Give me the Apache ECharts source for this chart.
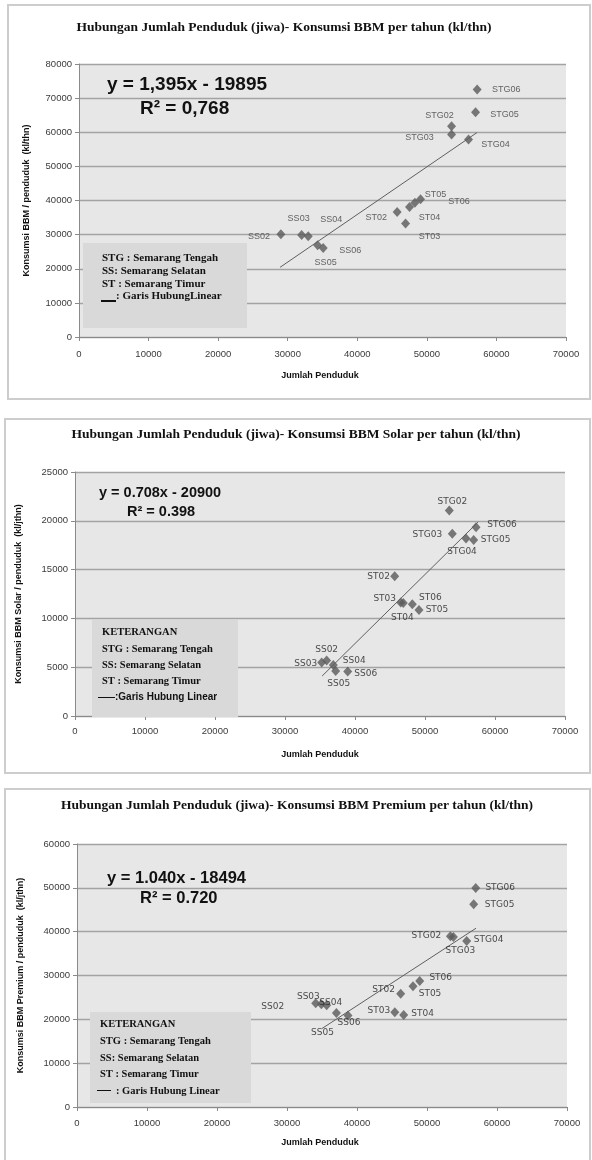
<!DOCTYPE html>
<html>
<head>
<meta charset="utf-8">
<script src="https://cdn.jsdelivr.net/npm/echarts@6/dist/echarts.min.js"></script>
<style>
html,body{margin:0;padding:0;background:#fff}
#c{width:592px;height:1160px}
</style>
</head>
<body>
<div id="c"></div>
<script>
// Kode wilayah (STG: Semarang Tengah, SS: Semarang Selatan, ST: Semarang Timur)
const kode = ['STG02','STG03','STG04','STG05','STG06','SS02','SS03','SS04','SS05','SS06','ST02','ST03','ST04','ST05','ST06'];

// Grafik 1: konsumsi BBM total
const penduduk1 = [53550,53550,55990,57000,57230,29020,32000,32950,34300,35100,45730,46940,47510,49090,48280];
const bbmTotal  = [61780,59360,57890,65880,72510,30120,29920,29530,26900,26110,36640,33240,38100,40350,39330];

// Grafik 2: konsumsi BBM solar
const penduduk2 = [53470,53900,55860,56950,57290,35950,35240,36900,37240,38960,45670,46530,46900,49140,48190];
const bbmSolar  = [21050,18670,18190,18020,19350,5680,5470,5230,4620,4550,14320,11630,11590,10850,11460];

// Grafik 3: konsumsi BBM premium
const penduduk3 = [53340,53770,55670,56670,56960,34100,34910,35670,37060,38710,46240,45400,46670,48000,48960];
const bbmPremium= [38950,38790,37880,46260,49990,23650,23420,23190,21430,20900,25860,21590,20970,27530,28740];

// Garis regresi linear: [kemiringan, konstanta, x awal, x akhir]
const regresi1 = [1.395, -19895, 28900, 57200];
const regresi2 = [0.708, -20900, 35300, 57600];
const regresi3 = [1.040, -18494, 35000, 57000];

// Teks persamaan
const persamaan1 = ['y = 1,395x - 19895', 'R² = 0,768'];
const persamaan2 = ['y = 0.708x - 20900', 'R² = 0.398'];
const persamaan3 = ['y = 1.040x - 18494', 'R² = 0.720'];

const judul = [
  'Hubungan Jumlah Penduduk (jiwa)- Konsumsi BBM per tahun (kl/thn)',
  'Hubungan Jumlah Penduduk (jiwa)- Konsumsi BBM Solar per tahun (kl/thn)',
  'Hubungan Jumlah Penduduk (jiwa)- Konsumsi BBM Premium per tahun (kl/thn)'
];
const namaSumbuY = [
  'Konsumsi BBM / penduduk  (kl/thn)',
  'Konsumsi BBM Solar / penduduk  (kl/jthn)',
  'Konsumsi BBM Premium / penduduk  (kl/jthn)'
];
const namaSumbuX = 'Jumlah Penduduk';

// Label placement (offset of label centre from the marker), per chart
const geser1 = [[-12,-11],[-32,3],[27,5],[29,2],[29,0],[-22,2],[-3,-16],[23,-17],[8,17],[27,3],[-21,6],[24,13],[20,11],[15,-5],[44,-1]];
const geser2 = [[3,-9],[-25,1],[-4,13],[22,0],[26,-2],[0,-11],[-16,1],[21,-4],[3,13],[18,2],[-16,0],[-16,-4],[-1,15],[18,0],[18,-6]];
const geser3 = [[-24,-1],[7,14],[22,-1],[26,0],[24.5,0],[-43,3],[-13,-8],[4,-3],[-14,20],[1,7],[-17,-4],[-16,-2],[19,-1],[17,7],[21,-3]];

const chart = echarts.init(document.getElementById('c'), null, {renderer:'canvas'});

const grids = [
  {left:79, top:64, width:487, height:273},
  {left:75, top:472, width:490, height:244},
  {left:77, top:844, width:490, height:263}
];
const yMax = [80000, 25000, 60000];
const yStep = [10000, 5000, 10000];
const labelFont = [
  {fontFamily:'Liberation Sans', fontSize:9, color:'#404040'},
  {fontFamily:'DejaVu Sans', fontSize:9, color:'#222'},
  {fontFamily:'DejaVu Sans', fontSize:9, color:'#222'}
];

function titikSeries(i, xs, ys, geser){
  return {
    type:'scatter', xAxisIndex:i, yAxisIndex:i,
    symbol:'diamond', symbolSize:[9,10],
    itemStyle:{color:'#5a5a5a'},
    z:3,
    data: xs.map((x,k)=>({
      value:[x, ys[k]],
      name:kode[k],
      label:{show:true, position:'inside', offset:geser[k], formatter:kode[k],
        fontFamily:labelFont[i].fontFamily, fontSize:labelFont[i].fontSize, color:labelFont[i].color}
    }))
  };
}
function garisSeries(i, r){
  const [m, c, x0, x1] = r;
  return {
    type:'line', xAxisIndex:i, yAxisIndex:i,
    symbol:'none', silent:true, z:2,
    lineStyle:{color:'#5f5f5f', width:1},
    data:[[x0, m*x0 + c],[x1, m*x1 + c]]
  };
}

const axisLabelStyle = {fontFamily:'Liberation Sans', fontSize:9.5, color:'#3a3a3a',
  formatter:v=>String(v)};

const option = {
  animation:false,
  backgroundColor:'#ffffff',
  grid: grids.map(g=>Object.assign({show:true, backgroundColor:'#e7e7e7', borderWidth:0}, g)),
  xAxis: [0,1,2].map(i=>({
    gridIndex:i, type:'value', min:0, max:70000, interval:10000,
    axisLine:{show:true, onZero:false, lineStyle:{color:'#8a8a8a', width:1}},
    axisTick:{show:true, length:4, lineStyle:{color:'#8a8a8a'}},
    splitLine:{show:false},
    axisLabel:Object.assign({margin:[12,10,11][i]}, axisLabelStyle)
  })),
  yAxis: [0,1,2].map(i=>({
    gridIndex:i, type:'value', min:0, max:yMax[i], interval:yStep[i],
    axisLine:{show:true, lineStyle:{color:'#8a8a8a', width:1}},
    axisTick:{show:true, length:4, lineStyle:{color:'#8a8a8a'}},
    splitLine:{show:true, lineStyle:{color:'#a3a3a3', width:1.3}},
    axisLabel:Object.assign({margin:7}, axisLabelStyle)
  })),
  series:[
    garisSeries(0, regresi1), titikSeries(0, penduduk1, bbmTotal, geser1),
    garisSeries(1, regresi2), titikSeries(1, penduduk2, bbmSolar, geser2),
    garisSeries(2, regresi3), titikSeries(2, penduduk3, bbmPremium, geser3)
  ],
  graphic:[]
};

const G = option.graphic;
// Chart frames
[[8,5,582,394],[5,419,585,354],[5,789,585,380]].forEach(r=>{
  G.push({type:'rect', shape:{x:r[0],y:r[1],width:r[2],height:r[3]}, silent:true, z:-10,
    style:{fill:'#ffffff', stroke:'#cdcdcd', lineWidth:2}});
});
// Titles
const titleY = [28, 435, 806];
const titleX = [284, 296, 297];
judul.forEach((t,i)=>G.push({type:'text', x:titleX[i], y:titleY[i], z:10,
  style:{text:t, textAlign:'center', textVerticalAlign:'middle', fill:'#111',
    font:'bold 13.5px "Liberation Serif"'}}));
// Axis names
const yNameX = [27, 19, 21];
[0,1,2].forEach(i=>{
  const g = grids[i];
  G.push({type:'text', x:yNameX[i], y:g.top+g.height/2, rotation:Math.PI/2, z:10,
    style:{text:namaSumbuY[i], textAlign:'center', textVerticalAlign:'middle', fill:'#111',
      font:'bold 9px "Liberation Sans"'}});
});
[376, 755, 1143].forEach(y=>G.push({type:'text', x:320, y:y, z:10,
  style:{text:namaSumbuX, textAlign:'center', textVerticalAlign:'middle', fill:'#111',
    font:'bold 9px "Liberation Sans"'}}));

// Regression equations
function tulisPersamaan(p, x1, y1, x2, y2, size){
  G.push({type:'text', x:x1, y:y1, z:10, style:{text:p[0], textVerticalAlign:'middle', fill:'#111',
    font:'bold '+size+'px "Liberation Sans"'}});
  G.push({type:'text', x:x2, y:y2, z:10, style:{text:p[1], textVerticalAlign:'middle', fill:'#111',
    font:'bold '+size+'px "Liberation Sans"'}});
}
tulisPersamaan(persamaan1, 107, 85, 140, 109, 19);
tulisPersamaan(persamaan2, 99, 493, 127, 512, 14.5);
tulisPersamaan(persamaan3, 107, 878, 140, 898, 16.5);

// Keterangan boxes
const serif = '"Liberation Serif"';
function kotak(x, y, w, h){
  G.push({type:'rect', shape:{x:x,y:y,width:w,height:h}, z:5, silent:true, style:{fill:'#d9d9d9'}});
}
function baris(t, x, y, font){
  G.push({type:'text', x:x, y:y, z:10, style:{text:t, textVerticalAlign:'middle', fill:'#111', font:font}});
}
function garisKet(x1, x2, y, w){
  G.push({type:'line', z:10, shape:{x1:x1,y1:y,x2:x2,y2:y}, style:{stroke:'#111', lineWidth:w}});
}
// chart 1
kotak(83, 243, 164, 85);
baris('STG : Semarang Tengah', 102, 258, 'bold 11px '+serif);
baris('SS: Semarang Selatan', 102, 271, 'bold 11px '+serif);
baris('ST : Semarang Timur', 102, 284, 'bold 11px '+serif);
garisKet(101, 116, 301, 2);
baris(': Garis HubungLinear', 116, 296, 'bold 11px '+serif);
// chart 2
kotak(92, 620, 146, 97);
baris('KETERANGAN', 102, 632, 'bold 10.5px '+serif);
baris('STG : Semarang Tengah', 102, 649, 'bold 10.5px '+serif);
baris('SS: Semarang Selatan', 102, 665, 'bold 10.5px '+serif);
baris('ST : Semarang Timur', 102, 681, 'bold 10.5px '+serif);
garisKet(98, 115, 697.5, 1);
baris(':Garis Hubung Linear', 115, 697, 'bold 10px "Liberation Sans"');
// chart 3
kotak(90, 1012, 161, 91);
baris('KETERANGAN', 100, 1024, 'bold 10.5px '+serif);
baris('STG : Semarang Tengah', 100, 1041, 'bold 10.5px '+serif);
baris('SS: Semarang Selatan', 100, 1058, 'bold 10.5px '+serif);
baris('ST : Semarang Timur', 100, 1074, 'bold 10.5px '+serif);
garisKet(97, 111, 1090.5, 1);
baris(': Garis Hubung Linear', 116, 1091, 'bold 10.5px '+serif);

chart.setOption(option);
</script>
</body>
</html>
